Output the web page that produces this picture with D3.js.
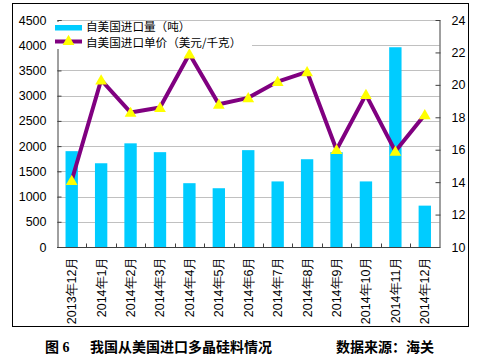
<!DOCTYPE html>
<html><head><meta charset="utf-8">
<script src="https://cdn.jsdelivr.net/npm/d3@7"></script>
<style>
html,body{margin:0;padding:0;background:#fff;}
svg{display:block;}
</style></head>
<body>
<script>
const categories = ["2013年12月","2014年1月","2014年2月","2014年3月","2014年4月","2014年5月","2014年6月","2014年7月","2014年8月","2014年9月","2014年10月","2014年11月","2014年12月"];
const volume = [1900,1660,2055,1880,1265,1165,1920,1300,1740,1880,1300,3960,820];
const price = [14.1,20.3,18.3,18.6,21.9,18.8,19.2,20.2,20.8,16.0,19.4,15.9,18.15];
const leftTicks = [0,500,1000,1500,2000,2500,3000,3500,4000,4500];
const rightTicks = [10,12,14,16,18,20,22,24];
const seriesNames = ["自美国进口量（吨）","自美国进口单价（美元/千克）"];
const captionLeft = "图 6";
const captionMid = "我国从美国进口多晶硅料情况";
const captionRight = "数据来源：海关";

const W = 489, H = 359;
const m = {left:57, right:439.5, top:20, bottom:247};
const font = "'Liberation Sans', Arial, sans-serif";
const cjk = "'Noto Sans CJK SC', sans-serif";

const svg = d3.select("body").append("svg").attr("width", W).attr("height", H);

// outer frame
svg.append("rect").attr("x",12.5).attr("y",3.5).attr("width",456).attr("height",323)
  .attr("fill","#fff").attr("stroke","#000").attr("stroke-width",1);

const x = d3.scaleBand().domain(categories).range([m.left, m.right]).paddingInner(0).paddingOuter(0);
const yL = d3.scaleLinear().domain([0,4500]).range([m.bottom, m.top]);
const yR = d3.scaleLinear().domain([10,24]).range([m.bottom, m.top]);

// gridlines
svg.append("g").selectAll("line").data(leftTicks.filter(d=>d>0)).join("line")
  .attr("x1", m.left).attr("x2", m.right)
  .attr("y1", d=>Math.round(yL(d))+0.5).attr("y2", d=>Math.round(yL(d))+0.5)
  .attr("stroke","#c0c0c0").attr("stroke-width",1);

// bars
const bw = x.bandwidth()*0.42;
svg.append("g").selectAll("rect").data(categories).join("rect")
  .attr("x", (d)=>x(d)+x.bandwidth()/2-bw/2)
  .attr("y", (d,i)=>yL(volume[i]))
  .attr("width", bw)
  .attr("height", (d,i)=>yL(0)-yL(volume[i]))
  .attr("fill","#00ccff");

// left axis
const gL = svg.append("g").attr("transform",`translate(${m.left+0.5},0)`)
  .call(d3.axisLeft(yL).tickValues(leftTicks).tickSize(-4).tickPadding(11).tickFormat(d3.format("d")));
gL.select(".domain").attr("stroke","#404040");
gL.selectAll(".tick line").attr("stroke","#404040");
gL.selectAll("text").attr("font-family",font).attr("font-size",12.5).attr("fill","#000");

// right axis
const gR = svg.append("g").attr("transform",`translate(${m.right},0)`)
  .call(d3.axisRight(yR).tickValues(rightTicks).tickSize(0).tickPadding(12));
gR.select(".domain").attr("stroke","#404040");
gR.selectAll(".tick").append("line").attr("x1",-4).attr("x2",1).attr("stroke","#404040");
gR.selectAll("text").attr("font-family",font).attr("font-size",12.5).attr("fill","#000");

// bottom axis
const gB = svg.append("g").attr("transform",`translate(0,${m.bottom+0.5})`);
gB.append("line").attr("x1",m.left).attr("x2",m.right).attr("stroke","#404040");
gB.selectAll("line.tk").data(categories.slice(1)).join("line").attr("class","tk")
  .attr("x1",d=>Math.round(x(d))+0.5).attr("x2",d=>Math.round(x(d))+0.5)
  .attr("y1",-4).attr("y2",0).attr("stroke","#404040");
gB.selectAll("text").data(categories).join("text")
  .attr("transform", d=>`translate(${x(d)+x.bandwidth()/2+4.5},9) rotate(-90)`)
  .attr("text-anchor","end")
  .attr("font-family",font).attr("font-size",12.5).attr("fill","#000")
  .text(d=>d);

// line
const line = d3.line().x((d,i)=>x(categories[i])+x.bandwidth()/2).y(d=>yR(d));
svg.append("path").datum(price).attr("d",line).attr("fill","none")
  .attr("stroke","#800080").attr("stroke-width",4).attr("stroke-linejoin","round");
const tri = d3.symbol().type(d3.symbolTriangle).size(60);
svg.append("g").selectAll("path").data(price).join("path")
  .attr("transform",(d,i)=>`translate(${x(categories[i])+x.bandwidth()/2},${yR(d)+1})`)
  .attr("d",tri).attr("fill","#ffff00");

// legend
const lg = svg.append("g");
lg.append("rect").attr("x",52).attr("y",22).attr("width",200).attr("height",27).attr("fill","#fff");
lg.append("rect").attr("x",55).attr("y",25).attr("width",27).attr("height",5.5).attr("fill","#00ccff");
lg.append("text").attr("x",86).attr("y",31).attr("font-family",cjk).attr("font-size",11.6).attr("fill","#000").text(seriesNames[0]);
lg.append("line").attr("x1",55).attr("x2",82).attr("y1",41.5).attr("y2",41.5).attr("stroke","#800080").attr("stroke-width",4);
lg.append("path").attr("transform","translate(68.5,41.5)").attr("d",tri).attr("fill","#ffff00");
lg.append("text").attr("x",86).attr("y",46.5).attr("font-family",cjk).attr("font-size",11.6).attr("fill","#000").text(seriesNames[1]);

// caption
svg.append("text").attr("x",45).attr("y",352).attr("font-family","'Liberation Serif', 'Noto Sans CJK SC', serif").attr("font-weight","bold").attr("font-size",14).text(captionLeft);
svg.append("text").attr("x",90).attr("y",352).attr("font-family",cjk).attr("font-weight","bold").attr("font-size",14).text(captionMid);
svg.append("text").attr("x",336).attr("y",352).attr("font-family",cjk).attr("font-weight","bold").attr("font-size",14).text(captionRight);
</script>
</body></html>
